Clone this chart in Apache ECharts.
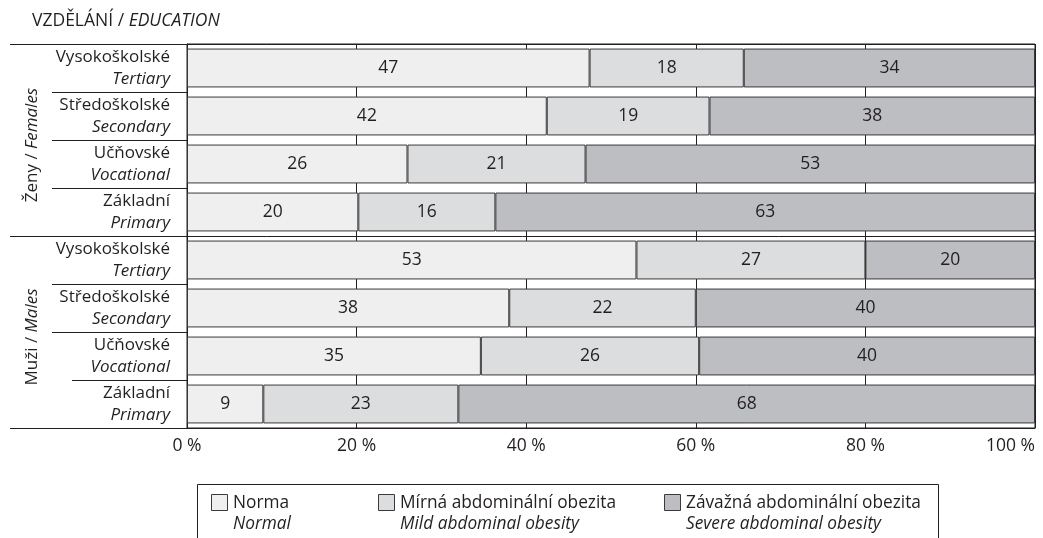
<!DOCTYPE html>
<html>
<head>
<meta charset="utf-8">
<title>Vzdělání / Education</title>
<script src="https://cdn.jsdelivr.net/npm/echarts@6/dist/echarts.min.js"></script>
<style>
  html, body { margin: 0; padding: 0; background: #fff; }
  #chart { width: 1043px; height: 538px; }
</style>
</head>
<body>
<div id="chart"></div>
<script>
// Education levels (Czech / English), top to bottom
const levelsCz = ['Vysokoškolské', 'Středoškolské', 'Učňovské', 'Základní',
                  'Vysokoškolské', 'Středoškolské', 'Učňovské', 'Základní'];
const levelsEn = ['Tertiary', 'Secondary', 'Vocational', 'Primary',
                  'Tertiary', 'Secondary', 'Vocational', 'Primary'];

// Sex groups, each spanning four rows
const groupsCz = ['Ženy', 'Muži'];
const groupsEn = ['Females', 'Males'];

// Shares of waist-circumference categories (%)
const normal = [47, 42, 26, 20, 53, 38, 35, 9];
const mild   = [18, 19, 21, 16, 27, 22, 26, 23];
const severe = [34, 38, 53, 63, 20, 40, 40, 68];

const xTicks = [0, 20, 40, 60, 80, 100];

const seriesNamesCz = ['Norma', 'Mírná abdominální obezita', 'Závažná abdominální obezita'];
const seriesNamesEn = ['Normal', 'Mild abdominal obesity', 'Severe abdominal obesity'];

const colors = ['#efefef', '#dcdddf', '#bdbec1'];
const ink = '#231f20';
const font = '"Open Sans", "Noto Sans", sans-serif';
const fs = 17;

const raw = [normal, mild, severe];
const totals = normal.map((v, i) => v + mild[i] + severe[i]);

const chart = echarts.init(document.getElementById('chart'), null, { renderer: 'canvas' });

// each row is stacked to 100 %; labels show the stated shares
const series = raw.map((arr, s) => ({
  name: seriesNamesCz[s],
  type: 'bar',
  stack: 'total',
  barWidth: '81%',
  data: arr.map((v, i) => v / totals[i] * 100),
  itemStyle: { color: colors[s], borderColor: '#3a3a3a', borderWidth: 1 },
  label: {
    show: true,
    position: 'inside',
    color: ink,
    fontFamily: font,
    fontSize: 17.5,
    formatter: p => String(arr[p.dataIndex])
  },
  emphasis: { disabled: true },
  silent: true
}));

chart.setOption({
  animation: false,
  color: colors,
  textStyle: { fontFamily: font },
  grid: {
    left: 187, right: 8, top: 44, bottom: 110,
    outerBoundsMode: 'none',
    containLabel: false,
    show: true, borderColor: ink, borderWidth: 1, backgroundColor: 'transparent'
  },
  xAxis: {
    type: 'value',
    min: 0, max: 100, interval: 20,
    axisLine: { show: true, lineStyle: { color: ink, width: 1 } },
    axisTick: { show: false },
    splitLine: { show: true, lineStyle: { color: ink, width: 1 } },
    axisLabel: {
      color: ink, fontFamily: font, fontSize: 17.5, margin: 9,
      alignMaxLabel: 'right',
      formatter: v => xTicks.includes(v) ? v + ' %' : ''
    }
  },
  yAxis: {
    type: 'category',
    inverse: true,
    data: levelsCz.map((c, i) => c + ' ' + levelsEn[i]),
    axisLine: { show: true, lineStyle: { color: ink, width: 1 } },
    axisTick: { show: false },
    axisLabel: {
      margin: 17,
      align: 'right',
      formatter: (v, i) => '{cz|' + levelsCz[i] + '}\n{en|' + levelsEn[i] + '}',
      rich: {
        cz: { fontFamily: font, fontSize: fs, lineHeight: 22, color: ink, align: 'right' },
        en: { fontFamily: font, fontSize: fs, lineHeight: 22, color: ink, fontStyle: 'italic', align: 'right' }
      }
    }
  },
  series: series
});

// Row separators, group labels, title and legend, positioned from the axis scales
function drawDecorations() {
  const yPix = i => chart.convertToPixel({ yAxisIndex: 0 }, i);
  const band = yPix(1) - yPix(0);
  const x0 = chart.convertToPixel({ xAxisIndex: 0 }, 0);
  const x100 = chart.convertToPixel({ xAxisIndex: 0 }, 100);
  const elems = [];

  // horizontal rules between rows; group boundaries run the full width of the label column
  for (let b = 0; b <= levelsCz.length; b++) {
    const y = Math.round(yPix(0) - band / 2 + b * band) + 0.5;
    const isGroup = b % 4 === 0;
    let left = isGroup ? 10 : 52;
    if (b === 7) left = 72;
    elems.push({
      type: 'line',
      shape: { x1: left, y1: y, x2: isGroup ? x100 : x0, y2: y },
      style: { stroke: ink, lineWidth: 1 },
      silent: true
    });
  }

  // rotated sex-group labels
  groupsCz.forEach((g, k) => {
    const yc = (yPix(k * 4) + yPix(k * 4 + 3)) / 2;
    elems.push({
      type: 'text',
      x: 32, y: yc + 5,
      rotation: Math.PI / 2,
      style: {
        text: '{a|' + g + ' / }{b|' + groupsEn[k] + '}',
        align: 'center', verticalAlign: 'middle',
        rich: {
          a: { fontFamily: font, fontSize: fs, fill: ink },
          b: { fontFamily: font, fontSize: fs, fill: ink, fontStyle: 'italic' }
        }
      },
      silent: true
    });
  });

  // title
  elems.push({
    type: 'text',
    x: 32, y: 21,
    style: {
      text: '{a|VZDĚLÁNÍ / }{b|EDUCATION}',
      align: 'left', verticalAlign: 'middle',
      rich: {
        a: { fontFamily: font, fontSize: 17.5, fill: ink },
        b: { fontFamily: font, fontSize: 17.5, fill: ink, fontStyle: 'italic' }
      }
    },
    silent: true
  });

  // legend frame and entries
  elems.push({
    type: 'rect',
    shape: { x: 197.5, y: 484.5, width: 741, height: 80 },
    style: { fill: '#fff', stroke: ink, lineWidth: 1 },
    silent: true
  });
  const legendX = [211, 378, 664];
  seriesNamesCz.forEach((n, s) => {
    elems.push({
      type: 'rect',
      shape: { x: legendX[s] + 0.5, y: 494.5, width: 16, height: 16 },
      style: { fill: colors[s], stroke: '#3a3a3a', lineWidth: 1 },
      silent: true
    });
    elems.push({
      type: 'text',
      x: legendX[s] + 22, y: 503,
      style: { text: n, fontFamily: font, fontSize: 17.3, fill: ink, align: 'left', verticalAlign: 'middle' },
      silent: true
    });
    elems.push({
      type: 'text',
      x: legendX[s] + 22, y: 524,
      style: { text: seriesNamesEn[s], fontFamily: font, fontSize: 17.3, fontStyle: 'italic', fill: ink, align: 'left', verticalAlign: 'middle' },
      silent: true
    });
  });

  chart.setOption({ graphic: elems });
}

drawDecorations();
</script>
</body>
</html>
